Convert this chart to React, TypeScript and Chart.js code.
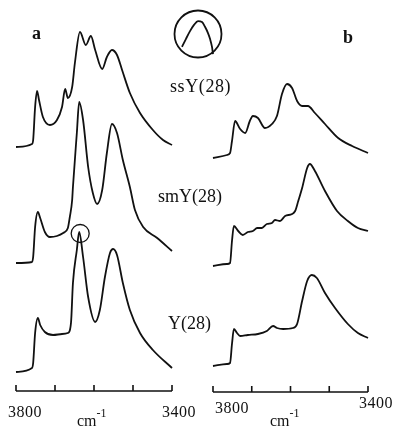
import React, { useEffect, useRef } from 'react';
import { Chart, registerables } from 'chart.js';

Chart.register(...registerables);

// ---------- data (wavenumber in cm-1, absorbance in arbitrary units incl. stacking offset) ----------
const xTicks = [3800, 3700, 3600, 3500, 3400];
const xTickLabels = ['3800', '3400'];
const sampleNames = ['ssY(28)', 'smY(28)', 'Y(28)'];
const panelNames = ['a', 'b'];

// panel a
const ssYaWn = [3800, 3759, 3756, 3751, 3746, 3741, 3731, 3713, 3695, 3682, 3674, 3667, 3656, 3649, 3636, 3621, 3608, 3597, 3579, 3567, 3554, 3541, 3528, 3508, 3482, 3449, 3423, 3400];
const ssYaAbs = [244, 247, 251, 284, 300, 291, 274, 266, 271, 284, 302, 293, 304, 328, 359, 346, 355, 341, 322, 334, 341, 336, 321, 298, 278, 261, 251, 246];
const smYaWn = [3800, 3759, 3756, 3751, 3744, 3738, 3726, 3713, 3695, 3679, 3667, 3662, 3656, 3654, 3644, 3638, 3628, 3615, 3603, 3592, 3579, 3567, 3554, 3541, 3526, 3508, 3495, 3474, 3438, 3400];
const smYaAbs = [128, 129, 134, 164, 179, 173, 159, 154, 155, 158, 163, 174, 191, 204, 258, 289, 271, 224, 198, 187, 201, 238, 267, 258, 231, 204, 181, 164, 153, 140];
const YaWn = [3800, 3759, 3756, 3751, 3744, 3738, 3726, 3705, 3682, 3667, 3659, 3654, 3644, 3638, 3628, 3615, 3597, 3585, 3572, 3559, 3551, 3541, 3526, 3508, 3482, 3449, 3400];
const YaAbs = [19, 23, 28, 58, 73, 66, 59, 56, 57, 58, 68, 108, 141, 159, 134, 94, 69, 81, 114, 138, 142, 136, 108, 81, 58, 41, 23];

// panel b
const ssYbWn = [3800, 3764, 3756, 3751, 3743, 3730, 3717, 3705, 3697, 3684, 3666, 3648, 3635, 3622, 3609, 3596, 3583, 3570, 3555, 3537, 3511, 3477, 3441, 3400];
const ssYbAbs = [234, 237, 239, 251, 271, 263, 259, 271, 276, 274, 264, 268, 276, 298, 308, 304, 291, 286, 286, 279, 268, 254, 246, 239];
const smYbWn = [3800, 3764, 3756, 3751, 3746, 3735, 3723, 3710, 3697, 3686, 3674, 3661, 3648, 3640, 3627, 3614, 3596, 3588, 3580, 3570, 3557, 3550, 3537, 3511, 3480, 3452, 3426, 3400];
const smYbAbs = [126, 128, 129, 151, 166, 161, 157, 160, 161, 164, 164, 168, 169, 172, 171, 176, 178, 181, 191, 204, 224, 228, 221, 201, 181, 171, 164, 161];
const YbWn = [3800, 3764, 3756, 3751, 3746, 3738, 3730, 3710, 3684, 3661, 3645, 3635, 3619, 3594, 3583, 3570, 3557, 3545, 3532, 3511, 3485, 3452, 3426, 3400];
const YbAbs = [26, 28, 29, 48, 63, 59, 56, 57, 58, 61, 66, 64, 63, 64, 68, 91, 111, 117, 114, 99, 84, 68, 59, 54];

// inset: zoom of the circled Y(28) peak
const insetWn = [3650, 3647, 3644, 3641, 3638, 3635, 3632.75, 3630.5, 3629, 3627.5, 3626.75];
const insetAbs = [0.23, 0.4, 0.56, 0.69, 0.77, 0.75, 0.65, 0.52, 0.4, 0.23, 0.08];

// ---------- helpers ----------
const FONT = '"Liberation Serif", "Times New Roman", serif';
const INK = '#111';
const W = 394;
const H = 427;

const zip = (xs: number[], ys: number[]) => xs.map((x, i) => ({ x, y: ys[i] }));

const lineDs = (xs: number[], ys: number[]) => ({
  data: zip(xs, ys),
  borderColor: INK,
  borderWidth: 1.8,
  pointRadius: 0,
  fill: false,
  cubicInterpolationMode: 'monotone' as const,
  clip: false as any,
});

const axisPlugin = {
  id: 'bottomAxis',
  afterDraw(chart: any) {
    const opts = chart.options.plugins.bottomAxis;
    if (!opts || !opts.show) return;
    const xs = chart.scales.x;
    const { ctx, chartArea } = chart;
    const y0 = chartArea.bottom;
    ctx.save();
    ctx.strokeStyle = INK;
    ctx.lineWidth = 1.6;
    ctx.beginPath();
    ctx.moveTo(xs.getPixelForValue(xTicks[0]), y0);
    ctx.lineTo(xs.getPixelForValue(xTicks[xTicks.length - 1]), y0);
    xTicks.forEach((t) => {
      const px = xs.getPixelForValue(t);
      ctx.moveTo(px, y0);
      ctx.lineTo(px, y0 - 6);
    });
    ctx.stroke();
    ctx.restore();
  },
};

const peakCirclePlugin = {
  id: 'peakCircle',
  afterDatasetsDraw(chart: any) {
    const opts = chart.options.plugins.peakCircle;
    if (!opts || opts.datasetIndex == null) return;
    const ds = chart.data.datasets[opts.datasetIndex];
    const meta = chart.getDatasetMeta(opts.datasetIndex);
    let best = -1;
    ds.data.forEach((p: any, i: number) => {
      if (p.x <= opts.from && p.x >= opts.to && (best < 0 || p.y > ds.data[best].y)) best = i;
    });
    if (best < 0) return;
    const el = meta.data[best];
    const { ctx } = chart;
    ctx.save();
    ctx.strokeStyle = INK;
    ctx.lineWidth = 1.3;
    ctx.beginPath();
    ctx.arc(el.x + 1, el.y + 1.5, opts.radius, 0, Math.PI * 2);
    ctx.stroke();
    ctx.restore();
  },
};

const ringPlugin = {
  id: 'ring',
  afterDraw(chart: any) {
    const opts = chart.options.plugins.ring;
    if (!opts || !opts.show) return;
    const { ctx, chartArea } = chart;
    const cx = (chartArea.left + chartArea.right) / 2;
    const cy = (chartArea.top + chartArea.bottom) / 2;
    ctx.save();
    ctx.strokeStyle = INK;
    ctx.lineWidth = 1.8;
    ctx.beginPath();
    ctx.arc(cx, cy, (chartArea.right - chartArea.left) / 2 - 0.5, 0, Math.PI * 2);
    ctx.stroke();
    ctx.restore();
  },
};

function buildConfig(datasets: any[], padding: any, xMin: number, xMax: number, yMax: number, plugins: any) {
  return {
    type: 'line' as const,
    data: { datasets },
    options: {
      animation: false as const,
      responsive: false,
      maintainAspectRatio: false,
      events: [],
      layout: { padding },
      scales: {
        x: { type: 'linear' as const, min: xMin, max: xMax, reverse: true, display: false },
        y: { type: 'linear' as const, min: 0, max: yMax, display: false },
      },
      plugins: { legend: { display: false }, tooltip: { enabled: false }, ...plugins },
    },
    plugins: [axisPlugin, peakCirclePlugin, ringPlugin],
  };
}

function Label({ text, left, baseline, size, bold, spacing, children }: any) {
  return (
    <span
      style={{
        position: 'absolute',
        left,
        top: baseline - 0.8375 * size,
        fontFamily: FONT,
        fontSize: size,
        lineHeight: `${size}px`,
        fontWeight: bold ? 'bold' : 'normal',
        letterSpacing: spacing || 0,
        whiteSpace: 'nowrap',
        color: INK,
      }}
    >
      {text}
      {children}
    </span>
  );
}

function Unit({ left, baseline }: any) {
  return (
    <Label text="cm" left={left} baseline={baseline} size={16}>
      <span style={{ fontSize: 12, position: 'relative', top: -9 }}>-1</span>
    </Label>
  );
}

export default function App() {
  const refA = useRef<HTMLCanvasElement>(null);
  const refB = useRef<HTMLCanvasElement>(null);
  const refI = useRef<HTMLCanvasElement>(null);

  useEffect(() => {
    const charts: Chart[] = [];
    if (refA.current) {
      charts.push(
        new Chart(
          refA.current,
          buildConfig(
            [lineDs(ssYaWn, ssYaAbs), lineDs(smYaWn, smYaAbs), lineDs(YaWn, YaAbs)],
            { left: 16, right: 197 - 172, top: 11, bottom: H - 391 },
            3400,
            3800,
            380,
            { bottomAxis: { show: true }, peakCircle: { datasetIndex: 2, from: 3700, to: 3600, radius: 9 } }
          ) as any
        )
      );
    }
    if (refB.current) {
      charts.push(
        new Chart(
          refB.current,
          buildConfig(
            [lineDs(ssYbWn, ssYbAbs), lineDs(smYbWn, smYbAbs), lineDs(YbWn, YbAbs)],
            { left: 213 - 197, right: W - 368, top: 12, bottom: H - 392 },
            3400,
            3800,
            380,
            { bottomAxis: { show: true } }
          ) as any
        )
      );
    }
    if (refI.current) {
      charts.push(
        new Chart(
          refI.current,
          buildConfig([lineDs(insetWn, insetAbs)], { left: 2, right: 2, top: 2, bottom: 2 }, 3620, 3656, 1, {
            ring: { show: true },
          }) as any
        )
      );
    }
    return () => charts.forEach((c) => c.destroy());
  }, []);

  return (
    <div style={{ position: 'absolute', left: 0, top: 0, width: W, height: H, background: '#fff', overflow: 'hidden' }}>
      <canvas ref={refA} width={197} height={H} style={{ position: 'absolute', left: 0, top: 0, width: 197, height: H }} />
      <canvas ref={refB} width={197} height={H} style={{ position: 'absolute', left: 197, top: 0, width: 197, height: H }} />
      <canvas ref={refI} width={52} height={52} style={{ position: 'absolute', left: 172, top: 8, width: 52, height: 52 }} />

      <Label text={panelNames[0]} left={32} baseline={39} size={18} bold />
      <Label text={panelNames[1]} left={343} baseline={43} size={18} bold />

      <Label text={sampleNames[0]} left={170} baseline={92} size={18} spacing={0.6} />
      <Label text={sampleNames[1]} left={158} baseline={202} size={18} />
      <Label text={sampleNames[2]} left={168} baseline={329} size={18} />

      <Label text={xTickLabels[0]} left={8} baseline={417} size={16} spacing={0.5} />
      <Label text={xTickLabels[1]} left={162} baseline={417} size={16} spacing={0.5} />
      <Unit left={77} baseline={426} />

      <Label text={xTickLabels[0]} left={215} baseline={413} size={16} spacing={0.5} />
      <Label text={xTickLabels[1]} left={359} baseline={408} size={16} spacing={0.5} />
      <Unit left={270} baseline={426} />
    </div>
  );
}
